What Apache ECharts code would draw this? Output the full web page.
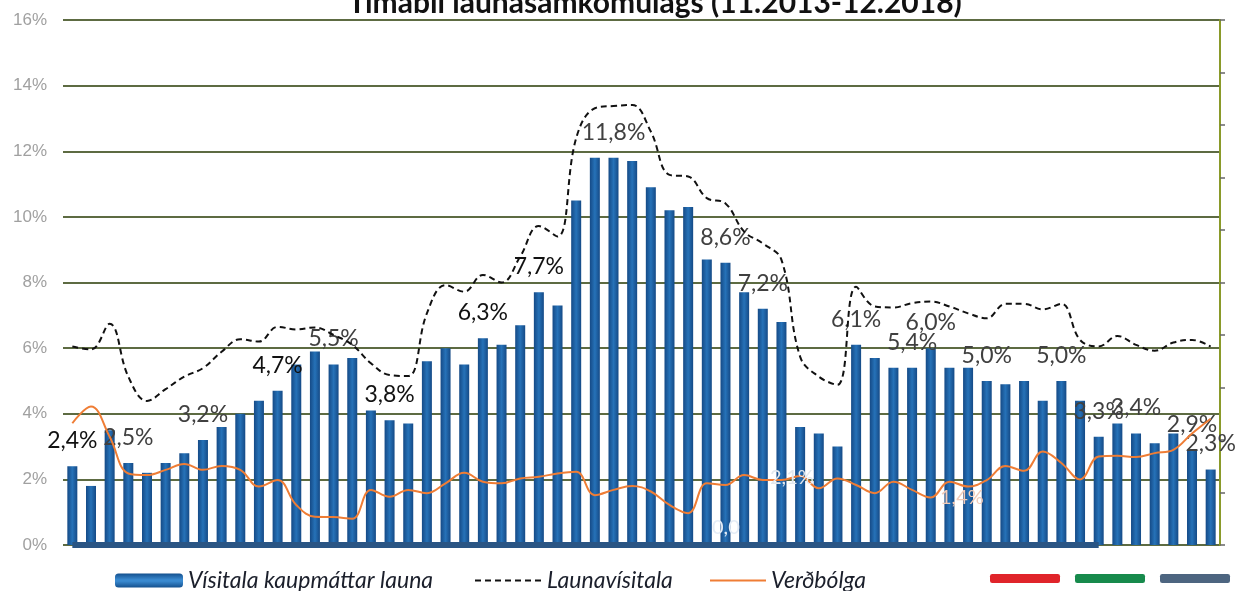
<!DOCTYPE html>
<html>
<head>
<meta charset="utf-8">
<script src="https://cdn.jsdelivr.net/npm/echarts@6/dist/echarts.min.js"></script>
<style>html,body{margin:0;padding:0;background:#fff}#c{width:1237px;height:591px}</style>
</head>
<body>
<div id="c"></div>
<script>
const categories = ['11.2013','12.2013',
'01.2014','02.2014','03.2014','04.2014','05.2014','06.2014','07.2014','08.2014','09.2014','10.2014','11.2014','12.2014',
'01.2015','02.2015','03.2015','04.2015','05.2015','06.2015','07.2015','08.2015','09.2015','10.2015','11.2015','12.2015',
'01.2016','02.2016','03.2016','04.2016','05.2016','06.2016','07.2016','08.2016','09.2016','10.2016','11.2016','12.2016',
'01.2017','02.2017','03.2017','04.2017','05.2017','06.2017','07.2017','08.2017','09.2017','10.2017','11.2017','12.2017',
'01.2018','02.2018','03.2018','04.2018','05.2018','06.2018','07.2018','08.2018','09.2018','10.2018','11.2018','12.2018'];

// Vísitala kaupmáttar launa (bars)
const kaupmattur = [2.4,1.8,3.5,2.5,2.2,2.5,2.8,3.2,3.6,4.0,4.4,4.7,5.5,5.9,5.5,5.7,4.1,3.8,3.7,5.6,
6.0,5.5,6.3,6.1,6.7,7.7,7.3,10.5,11.8,11.8,11.7,10.9,10.2,10.3,8.7,8.6,7.7,7.2,6.8,3.6,
3.4,3.0,6.1,5.7,5.4,5.4,6.0,5.4,5.4,5.0,4.9,5.0,4.4,5.0,4.4,3.3,3.7,3.4,3.1,3.4,2.9,2.3];

// Launavísitala (dashed line)
const launavisitala = [6.05,5.96,6.74,5.13,4.39,4.75,5.13,5.39,5.89,6.27,6.2,6.65,6.57,6.63,6.4,6.1,5.54,5.18,5.15,7.06,
7.92,7.72,8.23,8.0,8.79,9.72,9.4,12.4,13.31,13.38,13.41,12.6,11.28,11.23,10.57,10.41,9.55,9.19,8.69,5.74,
5.13,4.88,7.87,7.27,7.24,7.37,7.42,7.27,7.06,6.91,7.35,7.35,7.18,7.35,6.25,6.05,6.37,6.1,5.92,6.17,6.25,6.05];

// Verðbólga (orange line)
const verdbolga = [3.71,4.22,3.3,2.18,2.13,2.29,2.47,2.29,2.41,2.29,1.78,1.98,1.22,0.86,0.85,0.8,1.68,1.47,1.68,1.58,
1.88,2.2,1.93,1.88,2.03,2.08,2.18,2.23,1.52,1.68,1.8,1.63,1.22,0.97,1.88,1.83,2.13,1.98,1.98,2.1,
1.73,2.03,1.83,1.58,1.93,1.68,1.45,1.93,1.78,1.98,2.41,2.26,2.85,2.5,2.0,2.7,2.72,2.68,2.8,2.9,3.4,3.85];

const yTicksLeft = [0,2,4,6,8,10,12,14,16];
const labeledBars = [0,3,7,11,14,17,22,25,29,35,37,42,45,46,49,53,55,57,60,61];
const darkLabels = [0,11,17,22,25];

const FONT = 'Lato, "Open Sans", sans-serif';
const fmt = v => v.toFixed(1).replace('.', ',') + '%';

const barData = kaupmattur.map((v, i) => labeledBars.includes(i)
  ? {value: v, label: {show: true, formatter: fmt(v), color: darkLabels.includes(i) ? '#111' : '#404040'}}
  : v);

const barGrad = new echarts.graphic.LinearGradient(0, 0, 1, 0, [
  {offset: 0, color: '#154a86'}, {offset: 0.5, color: '#2672b8'}, {offset: 1, color: '#154a86'}]);
const legendGrad = new echarts.graphic.LinearGradient(0, 0, 0, 1, [
  {offset: 0, color: '#14508e'}, {offset: 0.45, color: '#3a8ad0'}, {offset: 0.55, color: '#3a8ad0'}, {offset: 1, color: '#14508e'}]);

const legendText = {fontFamily: FONT, fontStyle: 'italic', fontSize: 23, color: '#1b1f2b'};

const chart = echarts.init(document.getElementById('c'), null, {renderer: 'canvas'});
chart.setOption({
  animation: false,
  backgroundColor: '#fff',
  title: {
    text: 'Tímabil launasamkomulags (11.2013-12.2018)',
    left: 343, top: -17,
    textStyle: {fontFamily: FONT, fontWeight: 'bold', fontSize: 30, color: '#111'}
  },
  legend: [
    {left: 110, top: 564, itemWidth: 68, itemHeight: 14, itemGap: 20, textStyle: legendText,
     data: [{name: 'Vísitala kaupmáttar launa', itemStyle: {color: legendGrad}}]},
    {left: 469, top: 564, itemWidth: 67, itemHeight: 14, textStyle: legendText,
     itemStyle: {opacity: 0}, data: ['Launavísitala']},
    {left: 704, top: 564, itemWidth: 56, itemHeight: 14, textStyle: legendText,
     itemStyle: {opacity: 0}, data: ['Verðbólga']},
    {left: 985, top: 569, itemWidth: 70, itemHeight: 9, itemGap: 15, icon: 'roundRect',
     formatter: () => '', data: ['r', 'g', 'b']}
  ],
  grid: {left: 63, right: 17, top: 20, bottom: 46, containLabel: false},
  xAxis: {
    type: 'category', data: categories, boundaryGap: true,
    axisLine: {show: false}, axisTick: {show: false}, axisLabel: {show: false}, splitLine: {show: false}
  },
  yAxis: [
    {type: 'value', min: 0, max: 16, interval: 2,
     axisLine: {show: false}, axisTick: {show: false},
     axisLabel: {formatter: '{value}%', color: '#a0a0a0', fontSize: 17, margin: 16, fontFamily: '"Liberation Sans", Arial, sans-serif'},
     splitLine: {lineStyle: {color: '#5d6b42', width: 2}}},
    {type: 'value', min: 0, max: 10, interval: 1, position: 'right',
     axisLine: {show: true, lineStyle: {color: '#8a9a2a', width: 2}},
     axisTick: {show: true, length: 5, lineStyle: {color: '#666', width: 1.5}},
     axisLabel: {show: false}, splitLine: {show: false}}
  ],
  series: [
    {name: 'Vísitala kaupmáttar launa', type: 'bar', data: barData, barWidth: 10,
     itemStyle: {color: barGrad},
     label: {show: false, position: 'top', distance: 14, fontFamily: FONT, fontSize: 23},
     markLine: {silent: true, symbol: 'none', label: {show: false},
       lineStyle: {color: '#2a5584', width: 6, type: 'solid'},
       data: [[{xAxis: categories[0], yAxis: 0}, {xAxis: categories[55], yAxis: 0}]]},
     z: 2},
    {name: 'Launavísitala', type: 'line', data: launavisitala, smooth: 0.4, symbol: 'none',
     lineStyle: {color: '#111', width: 2, type: [6, 4]}, itemStyle: {color: '#111'}, z: 4},
    {name: 'Verðbólga', type: 'line', data: verdbolga, smooth: 0.4, symbol: 'none',
     lineStyle: {color: '#ef7d35', width: 2}, itemStyle: {color: '#ef7d35'}, z: 5},
    {name: 'r', type: 'line', data: [], itemStyle: {color: '#e0242a'}},
    {name: 'g', type: 'line', data: [], itemStyle: {color: '#178a4c'}},
    {name: 'b', type: 'line', data: [], itemStyle: {color: '#4d6580'}}
  ],
  graphic: [
    {type: 'text', left: 712, top: 518, style: {text: '0,0', fill: '#e4ecf6', font: '20px ' + FONT}, z: 10},
    {type: 'text', left: 770, top: 468, style: {text: '2,1%', fill: '#e2e8ee', font: '20px ' + FONT}, z: 10},
    {type: 'text', left: 940, top: 488, style: {text: '1,4%', fill: '#f2cbb8', font: '20px ' + FONT}, z: 10}
  ]
});
</script>
</body>
</html>
